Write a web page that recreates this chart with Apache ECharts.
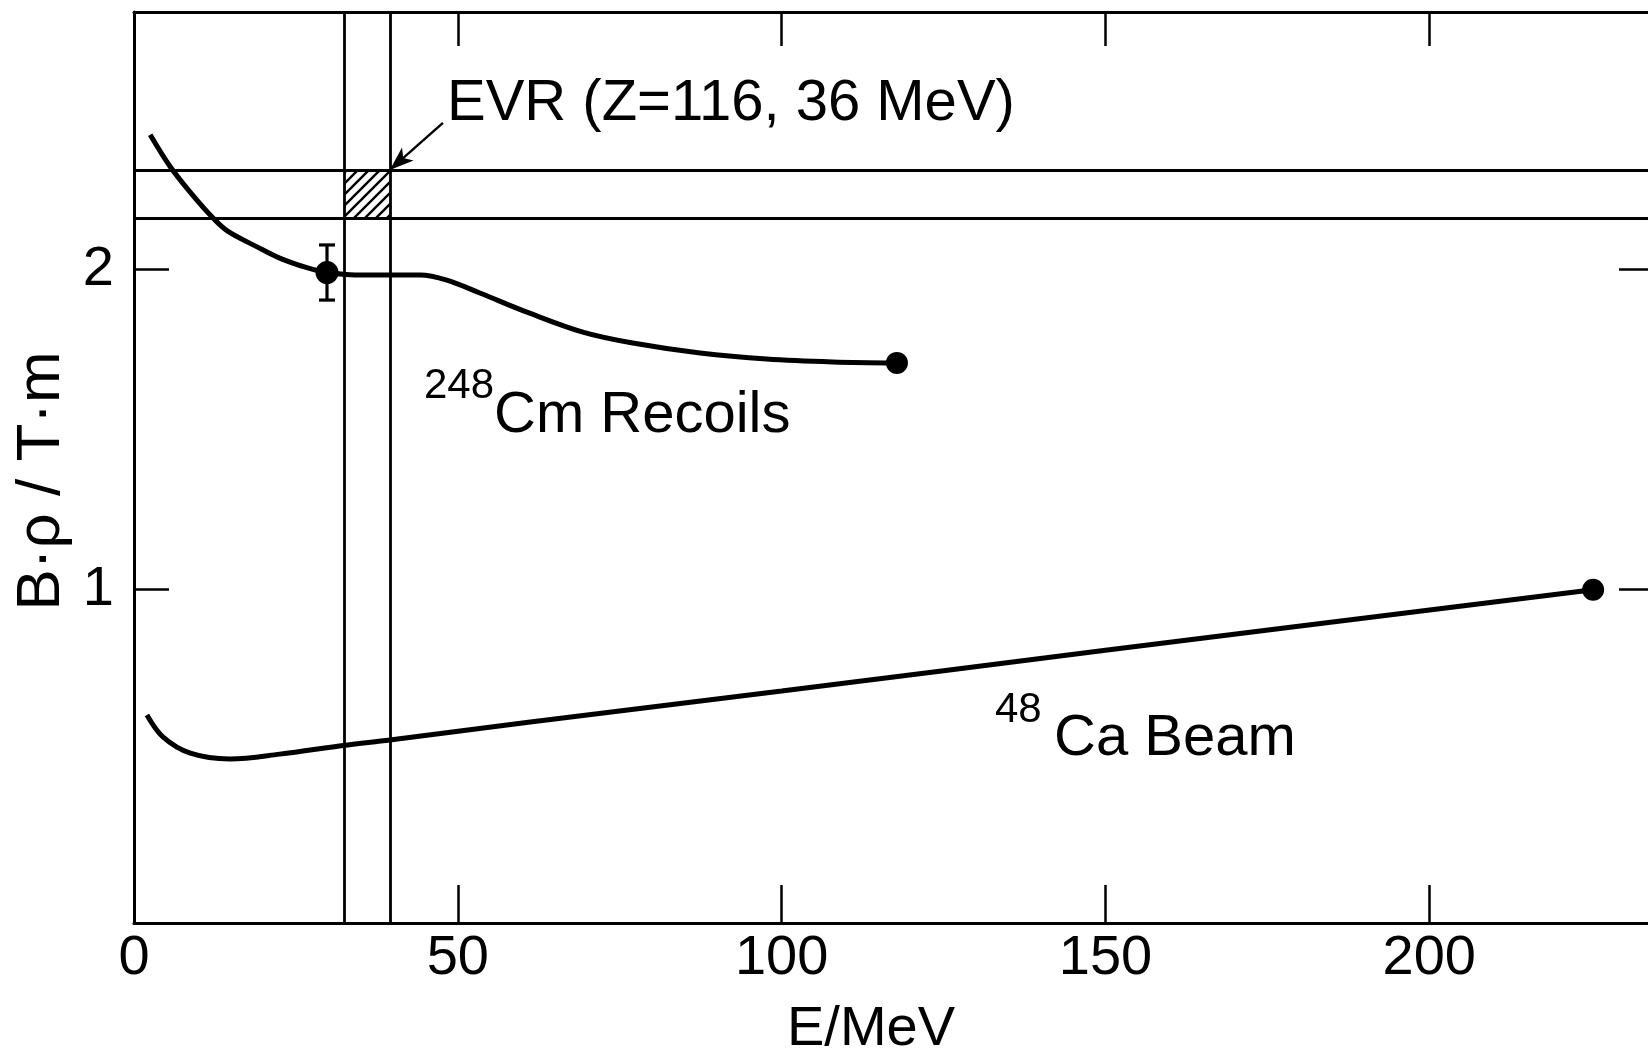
<!DOCTYPE html>
<html>
<head>
<meta charset="utf-8">
<script src="https://cdn.jsdelivr.net/npm/echarts@6/dist/echarts.min.js"></script>
<style>
  html, body { margin: 0; padding: 0; background: #fff; }
  #chart { width: 1648px; height: 1059px; }
</style>
</head>
<body>
<div id="chart"></div>
<script>
// Magnetic rigidity B·ρ against energy for the 248Cm recoils and the 48Ca beam
const cmEnergy = [2.5, 5.6, 8.7, 12.2, 14.4, 19.0, 22.5, 26.7, 29.8, 35.4, 44.2, 48.3, 53.4, 61.1, 69.3, 77.0, 87.4, 97.7, 107.9, 117.8];
const cmBrho   = [2.42, 2.32, 2.24, 2.16, 2.12, 2.07, 2.035, 2.005, 1.99, 1.982, 1.982, 1.966, 1.926, 1.863, 1.804, 1.770, 1.739, 1.720, 1.711, 1.708];

const caEnergy = [2.0, 4.5, 8.7, 14.8, 22.5, 32.6, 39.5, 61.2, 100, 150, 225.3];
const caBrho   = [0.609, 0.54, 0.49, 0.472, 0.487, 0.515, 0.531, 0.587, 0.684, 0.811, 1.0];

// EVR window (Z = 116, 36 MeV)
const evrEnergyBand = [32.5, 39.5];
const evrBrhoBand = [2.156, 2.310];
const evrArrowStart = [47.7, 2.457];

// measured point: energy, B·ρ, error
const measured = [29.8, 1.99, 0.086];
// curve end points
const endEnergy = [117.8, 225.3];
const endBrho = [1.708, 1.0];

const xTickValues = [0, 50, 100, 150, 200];
const xInnerTicks = [50, 100, 150, 200];
const yTickValues = [1, 2];

const FONT = '"Liberation Sans", Arial, sans-serif';
const INK = '#000';

function zip(a, b) { return a.map((v, i) => [v, b[i]]); }

// diagonal hatching for the EVR window
function hatchPattern() {
  const s = 11;
  const c = document.createElement('canvas');
  c.width = s; c.height = s;
  const g = c.getContext('2d');
  g.strokeStyle = INK;
  g.lineWidth = 2.4;
  g.beginPath();
  g.moveTo(-2, s + 2); g.lineTo(s + 2, -2);
  g.moveTo(-s / 2 - 2, s / 2 + 2); g.lineTo(s / 2 + 2, -s / 2 - 2);
  g.moveTo(s / 2 - 2, 1.5 * s + 2); g.lineTo(1.5 * s + 2, s / 2 - 2);
  g.stroke();
  return c;
}

const chart = echarts.init(document.getElementById('chart'), null, { renderer: 'canvas' });

const axisLine = { show: true, onZero: false, lineStyle: { color: INK, width: 3 } };
const tickStyle = { color: INK, width: 2.5 };

const option = {
  animation: false,
  backgroundColor: '#fff',
  grid: { left: 134, top: 12, right: -6, bottom: 136, containLabel: false, outerBoundsMode: 'none' },
  xAxis: [
    {
      type: 'value', position: 'bottom', min: 0, max: 234.7,
      axisLine: axisLine,
      axisTick: { show: true, inside: true, length: 38, lineStyle: tickStyle, customValues: xInnerTicks },
      axisLabel: { show: true, customValues: xTickValues, color: INK, fontFamily: FONT, fontSize: 56,
                   margin: 36, verticalAlign: 'middle' },
      splitLine: { show: false }
    },
    {
      type: 'value', position: 'top', min: 0, max: 234.7,
      axisLine: axisLine,
      axisTick: { show: true, inside: true, length: 34, lineStyle: tickStyle, customValues: xInnerTicks },
      axisLabel: { show: false },
      splitLine: { show: false }
    }
  ],
  yAxis: [
    {
      type: 'value', position: 'left', min: -0.04, max: 2.803,
      axisLine: axisLine,
      axisTick: { show: true, inside: true, length: 35, lineStyle: tickStyle, customValues: yTickValues },
      axisLabel: { show: true, customValues: yTickValues, color: INK, fontFamily: FONT, fontSize: 56, margin: 20 },
      splitLine: { show: false }
    },
    {
      type: 'value', position: 'right', min: -0.04, max: 2.803,
      axisLine: axisLine,
      axisTick: { show: true, inside: true, length: 35, lineStyle: tickStyle, customValues: yTickValues },
      axisLabel: { show: false },
      splitLine: { show: false }
    }
  ],
  series: [
    {
      name: '248Cm Recoils', type: 'line', data: zip(cmEnergy, cmBrho),
      smooth: 0.35, showSymbol: false, z: 4,
      lineStyle: { color: INK, width: 5 },
      markArea: {
        silent: true,
        itemStyle: { color: { image: hatchPattern(), repeat: 'repeat' } },
        data: [[{ xAxis: evrEnergyBand[0], yAxis: evrBrhoBand[0] }, { xAxis: evrEnergyBand[1], yAxis: evrBrhoBand[1] }]]
      },
      markLine: {
        silent: true, symbol: 'none', label: { show: false },
        lineStyle: { color: INK, width: 2.8, type: 'solid' },
        data: [
          { xAxis: evrEnergyBand[0] }, { xAxis: evrEnergyBand[1] },
          { yAxis: evrBrhoBand[0] }, { yAxis: evrBrhoBand[1] },
          [
            { coord: evrArrowStart, symbol: 'none', lineStyle: { width: 2.4 } },
            { coord: [evrEnergyBand[1], evrBrhoBand[1]], symbol: 'arrow', symbolSize: [13, 24] }
          ]
        ]
      }
    },
    {
      name: '48Ca Beam', type: 'line', data: zip(caEnergy, caBrho),
      smooth: 0.35, showSymbol: false, z: 4,
      lineStyle: { color: INK, width: 5 }
    },
    {
      name: 'end points', type: 'scatter', data: zip(endEnergy, endBrho),
      symbol: 'circle', symbolSize: 22, itemStyle: { color: INK, opacity: 1 }, z: 5
    },
    {
      name: 'measured', type: 'custom', data: [measured], z: 6,
      renderItem: function (params, api) {
        const x = api.value(0), y = api.value(1), e = api.value(2);
        const c = api.coord([x, y]);
        const top = api.coord([x, y + e]);
        const bot = api.coord([x, y - e]);
        const half = 8;
        const st = { stroke: INK, lineWidth: 3.2 };
        return {
          type: 'group',
          children: [
            { type: 'line', shape: { x1: top[0], y1: top[1], x2: bot[0], y2: bot[1] }, style: st },
            { type: 'line', shape: { x1: top[0] - half, y1: top[1], x2: top[0] + half, y2: top[1] }, style: st },
            { type: 'line', shape: { x1: bot[0] - half, y1: bot[1], x2: bot[0] + half, y2: bot[1] }, style: st },
            { type: 'circle', shape: { cx: c[0], cy: c[1], r: 11.5 }, style: { fill: INK } }
          ]
        };
      }
    }
  ],
  graphic: [
    { type: 'text', x: 447, y: 104, style: { text: 'EVR (Z=116, 36 MeV)', font: '58px ' + FONT, fill: INK, align: 'left', verticalAlign: 'middle' } },
    { type: 'text', x: 424, y: 386, style: { text: '248', font: '42px ' + FONT, fill: INK, align: 'left', verticalAlign: 'middle' } },
    { type: 'text', x: 494, y: 416, style: { text: 'Cm Recoils', font: '58px ' + FONT, fill: INK, align: 'left', verticalAlign: 'middle' } },
    { type: 'text', x: 995, y: 710, style: { text: '48', font: '42px ' + FONT, fill: INK, align: 'left', verticalAlign: 'middle' } },
    { type: 'text', x: 1054, y: 739, style: { text: 'Ca Beam', font: '58px ' + FONT, fill: INK, align: 'left', verticalAlign: 'middle' } },
    { type: 'text', x: 871, y: 1030, style: { text: 'E/MeV', font: '56px ' + FONT, fill: INK, align: 'center', verticalAlign: 'middle' } },
    { type: 'text', x: 42, y: 481, rotation: Math.PI / 2, style: { text: 'B·ρ / T·m', font: '62px ' + FONT, fill: INK, align: 'center', verticalAlign: 'middle' } }
  ]
};

chart.setOption(option);
</script>
</body>
</html>
